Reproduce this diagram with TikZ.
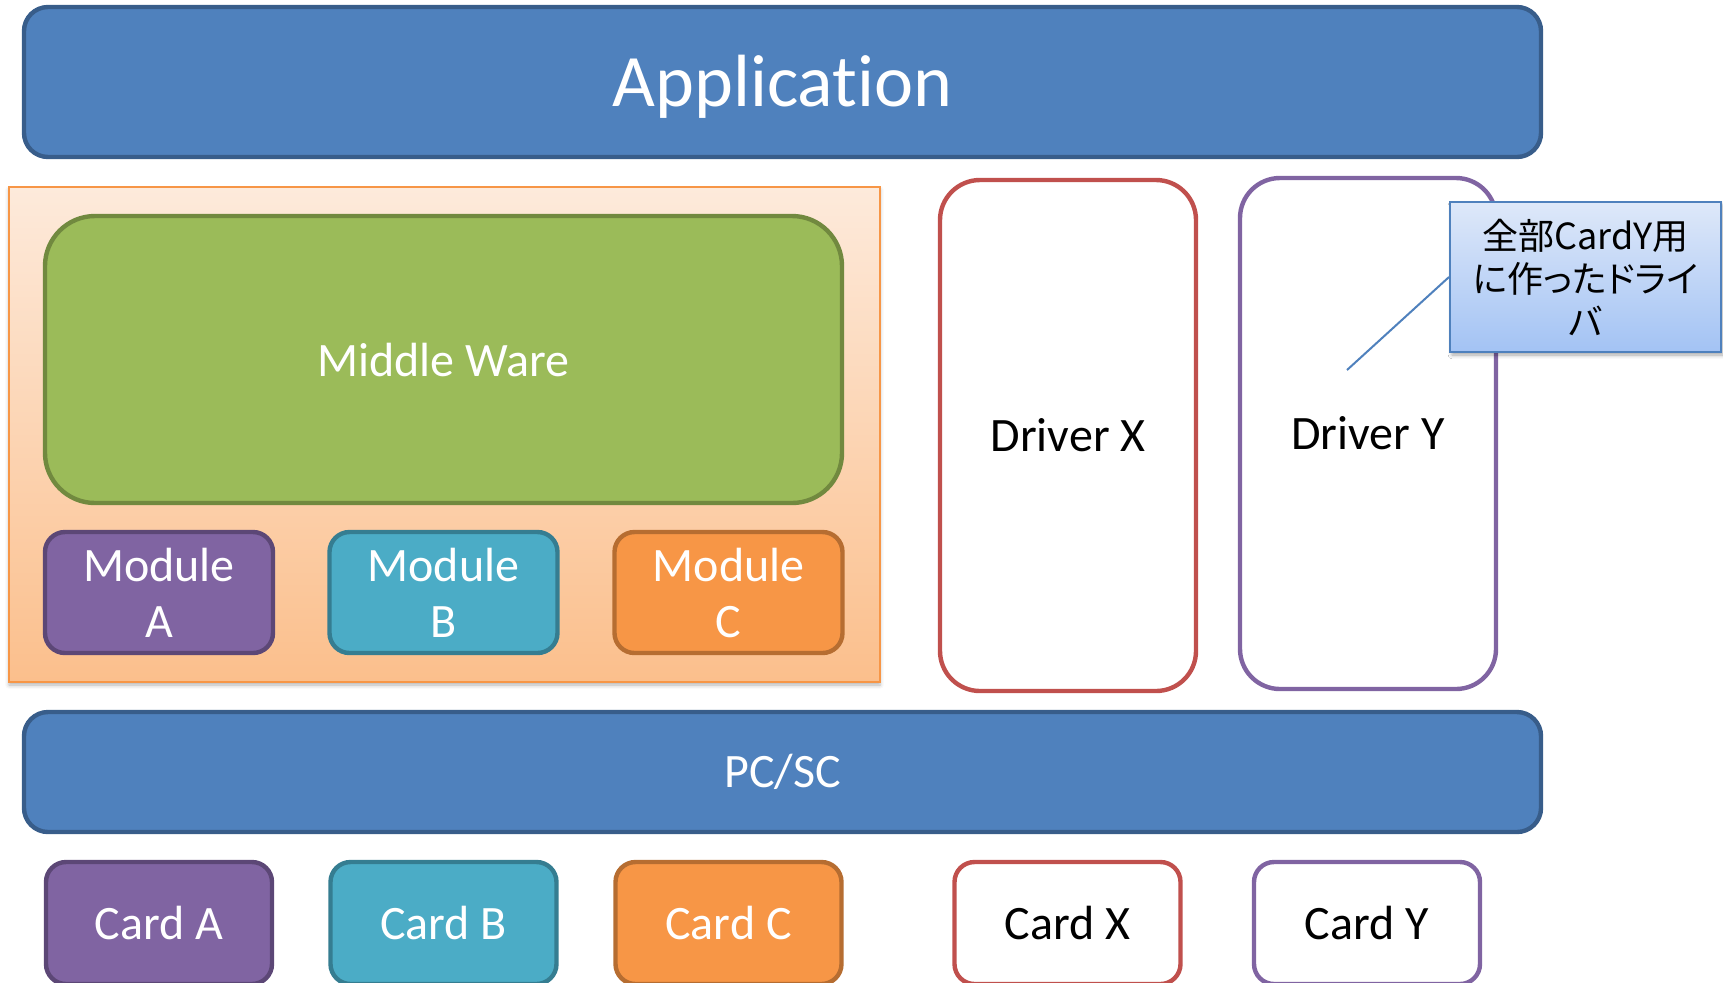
\documentclass[tikz,border=0pt]{standalone}
\usepackage{fontspec}
\setmainfont[Ligatures=NoCommon]{Carlito}
\newfontfamily\jpfont[RawFeature=+palt]{Noto Sans CJK JP}
\usetikzlibrary{shadows.blur}
\definecolor{appblue}{HTML}{4F81BD}
\definecolor{appline}{HTML}{385D8A}
\definecolor{mwgreen}{HTML}{9BBB59}
\definecolor{mwline}{HTML}{71893F}
\definecolor{apurple}{HTML}{8064A2}
\definecolor{apurpleline}{HTML}{5C4776}
\definecolor{bcyan}{HTML}{4BACC6}
\definecolor{bcyanline}{HTML}{357D91}
\definecolor{corange}{HTML}{F79646}
\definecolor{corangeline}{HTML}{B66D31}
\definecolor{xred}{HTML}{C0504D}
\definecolor{peachtop}{HTML}{FDEADB}
\definecolor{peachbot}{HTML}{FBBF8C}
\definecolor{notetop}{HTML}{DEE8F9}
\definecolor{notebot}{HTML}{A3C3F4}
\begin{document}
\begin{tikzpicture}
[x=0.5pt,y=-0.5pt,
layer/.style={draw=appline,fill=appblue,line width=2.2pt,rounded corners=12pt,text=white,minimum width=758.5pt},
modbox/.style={rounded corners=10pt,line width=2.2pt,minimum width=114pt,minimum height=60.5pt,text=white,align=center,font=\fontsize{24}{28}\selectfont},
cardbox/.style={rounded corners=10pt,line width=2.2pt,minimum width=113pt,minimum height=61pt,font=\fontsize{24}{28}\selectfont},
drvbox/.style={fill=white,rounded corners=20pt,line width=2.2pt,minimum width=128pt,minimum height=255.5pt,font=\fontsize{24}{28}\selectfont}]
\clip (0,0) rectangle (1723,982);
\node[layer,minimum height=75pt,text height=31pt,text depth=7pt,font=\fontsize{37}{42}\selectfont] (app) at (782.5,82) {Application};
\node[draw=corange,line width=1pt,top color=peachtop,bottom color=peachbot,minimum width=435.5pt,minimum height=247.5pt,
  blur shadow={shadow xshift=0pt,shadow yshift=-1.5pt,shadow blur steps=4,shadow opacity=30}] (mwframe) at (444.5,434.5) {};
\node[draw=mwline,fill=mwgreen,line width=2.2pt,rounded corners=25pt,minimum width=398.5pt,minimum height=143.5pt,
  text=white,font=\fontsize{24}{28}\selectfont] (mw) at (443.5,359.5) {Middle Ware};
\node[modbox,draw=apurpleline,fill=apurple] (moda) at (159,592.5) {Module\\A};
\node[modbox,draw=bcyanline,fill=bcyan] (modb) at (443.5,592.5) {Module\\B};
\node[modbox,draw=corangeline,fill=corange] (modc) at (728.5,592.5) {Module\\C};
\node[drvbox,draw=xred] (drvx) at (1068,435.5) {Driver X};
\node[drvbox,draw=apurple] (drvy) at (1368,433.5) {Driver Y};
\node[layer,minimum height=60pt,font=\fontsize{24}{28}\selectfont] (pcsc) at (782.5,772) {PC/SC};
\node[cardbox,draw=apurpleline,fill=apurple,text=white] (carda) at (159,923) {Card A};
\node[cardbox,draw=bcyanline,fill=bcyan,text=white] (cardb) at (443.5,923) {Card B};
\node[cardbox,draw=corangeline,fill=corange,text=white] (cardc) at (728.5,923) {Card C};
\node[cardbox,draw=xred,fill=white] (cardx) at (1067.5,923) {Card X};
\node[cardbox,draw=apurple,fill=white] (cardy) at (1367,923) {Card Y};
% note on driver Y
\node[draw=appblue,line width=1pt,top color=notetop,bottom color=notebot,minimum width=135.5pt,minimum height=75pt,
  align=center,inner sep=2pt,font=\jpfont\fontsize{18}{21.5}\selectfont,
  blur shadow={shadow xshift=1pt,shadow yshift=-1.5pt,shadow blur steps=4,shadow opacity=35}] (note) at (1585.5,277)
  {全部CardY用\\に作ったドライ\\バ};
\coordinate (tip) at (1347,370);
\draw[appblue,line width=1pt] (tip) -- (note.west);
\end{tikzpicture}
\end{document}
